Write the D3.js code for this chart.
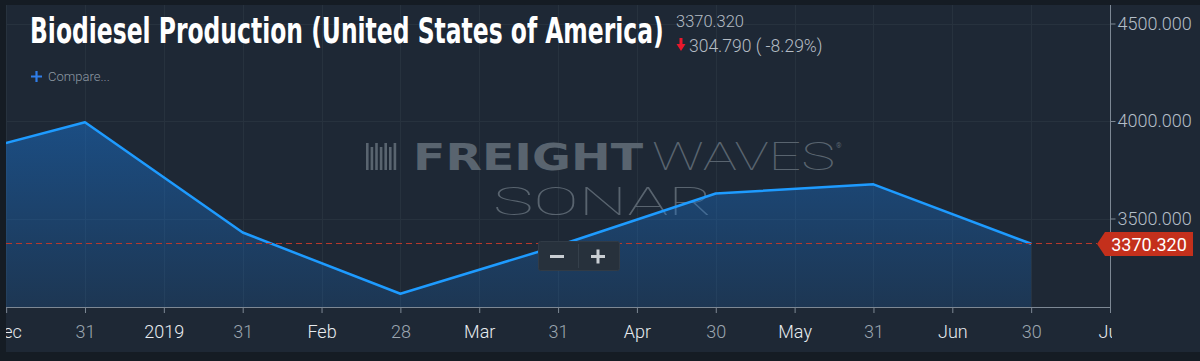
<!DOCTYPE html>
<html>
<head>
<meta charset="utf-8">
<script src="https://cdn.jsdelivr.net/npm/d3@7"></script>
<style>
  html, body { margin: 0; padding: 0; background: #151c24; }
  svg { display: block; }
</style>
</head>
<body>
<div id="chart"></div>
<script>
// monthly biodiesel production, ordinal positions (Dec 31 = 0)
var dates = ["2018-11-30", "2018-12-31", "2019-01-31", "2019-02-28", "2019-03-31", "2019-04-30", "2019-05-31", "2019-06-30"];
var positions = [-1, 0, 1, 2, 3, 4, 5, 6];
var values = [3781, 3994, 3428, 3114, 3360, 3628, 3675.11, 3370.32];

var tickPositions = [-0.5, 0, 0.5, 1, 1.5, 2, 2.5, 3, 3.5, 4, 4.5, 5, 5.5, 6, 6.5];
var tickLabels = ["Dec", "31", "2019", "31", "Feb", "28", "Mar", "31", "Apr", "30", "May", "31", "Jun", "30", "Jul"];
var majorTicks = ["Dec", "2019", "Feb", "Mar", "Apr", "May", "Jun", "Jul"];
var yTicks = [3500, 4000, 4500];

var lastValue = 3370.320;
var change = -304.790;
var changePct = -8.29;

var W = 1200, H = 361;
var pl = 6, pr = 1110, pt = 5, pb = 307;
var FONT = "Roboto, 'Noto Sans', sans-serif";

var svg = d3.select("#chart").append("svg")
  .attr("width", W).attr("height", H);

var defs = svg.append("defs");
defs.append("clipPath").attr("id", "plotclip")
  .append("rect").attr("x", pl).attr("y", pt)
  .attr("width", pr - pl).attr("height", pb - pt);
defs.append("clipPath").attr("id", "xlabclip")
  .append("rect").attr("x", pl).attr("y", -2)
  .attr("width", pr - pl + 2).attr("height", 50);

var grad = defs.append("linearGradient").attr("id", "fillgrad")
  .attr("gradientUnits", "userSpaceOnUse")
  .attr("x1", 0).attr("x2", 0).attr("y1", 120).attr("y2", pb);
grad.append("stop").attr("offset", 0).attr("stop-color", "#1878dc").attr("stop-opacity", 0.47);
grad.append("stop").attr("offset", 1).attr("stop-color", "#1878dc").attr("stop-opacity", 0.18);

// panel background
svg.append("rect").attr("x", pl).attr("y", pt)
  .attr("width", W - pl).attr("height", 352 - pt)
  .attr("fill", "#1e2835");

var x = d3.scaleLinear().domain([-0.5, 6.5]).range([6.15, 1110]);
var y = d3.scaleLinear().domain([3500, 4500]).range([218.5, 23.5]);

// grid
var grid = svg.append("g");
grid.selectAll(".vg").data(tickPositions).enter().append("line")
  .attr("x1", function(d){ return Math.round(x(d)) + 0.5; })
  .attr("x2", function(d){ return Math.round(x(d)) + 0.5; })
  .attr("y1", pt).attr("y2", pb)
  .attr("stroke", "#27323e").attr("stroke-width", 1);
grid.selectAll(".hg").data(yTicks).enter().append("line")
  .attr("x1", pl).attr("x2", pr)
  .attr("y1", function(d){ return Math.round(y(d)) + 0.5; })
  .attr("y2", function(d){ return Math.round(y(d)) + 0.5; })
  .attr("stroke", "#27323e").attr("stroke-width", 1);

// watermark
var wm = svg.append("g").attr("fill", "#59646f");
var bars = [0, 1, 2, 3, 4, 5, 6];
wm.selectAll("rect").data(bars).enter().append("rect")
  .attr("x", function(d){ return 366 + d * 4.6; })
  .attr("y", function(d){ return d % 2 ? 147 : 143; })
  .attr("width", 2.6)
  .attr("height", function(d){ return d % 2 ? 23 : 27; });
wm.append("text").attr("x", 413).attr("y", 170)
  .attr("font-family", "DejaVu Sans").attr("font-weight", 700).attr("font-size", 37)
  .attr("textLength", 230).attr("lengthAdjust", "spacingAndGlyphs")
  .text("FREIGHT");
wm.append("text").attr("x", 652).attr("y", 170)
  .attr("font-family", "Roboto").attr("font-weight", 100).attr("font-size", 38)
  .attr("textLength", 183).attr("lengthAdjust", "spacingAndGlyphs")
  .text("WAVES");
wm.append("text").attr("x", 493).attr("y", 215)
  .attr("font-family", "Roboto").attr("font-weight", 100).attr("font-size", 38)
  .attr("textLength", 220).attr("lengthAdjust", "spacingAndGlyphs")
  .text("SONAR");
wm.append("text").attr("x", 836).attr("y", 148)
  .attr("font-family", "Roboto").attr("font-size", 7).text("®");

// series
var pts = positions.map(function(p, i){ return [p, values[i]]; });
var plot = svg.append("g").attr("clip-path", "url(#plotclip)");
plot.append("path").datum(pts)
  .attr("fill", "url(#fillgrad)")
  .attr("d", d3.area()
    .x(function(d){ return x(d[0]); })
    .y0(pb)
    .y1(function(d){ return y(d[1]); }));
plot.append("path").datum(pts)
  .attr("fill", "none")
  .attr("stroke", "#1e9bff").attr("stroke-width", 2.5)
  .attr("stroke-linejoin", "round")
  .attr("d", d3.line()
    .x(function(d){ return x(d[0]); })
    .y(function(d){ return y(d[1]); }));

// last value line
var ly = Math.round(y(lastValue)) - 0.5;
svg.append("line")
  .attr("x1", pl).attr("x2", 1097)
  .attr("y1", ly).attr("y2", ly)
  .attr("stroke", "#b8392b").attr("stroke-width", 1)
  .attr("stroke-dasharray", "6,4");

// x axis
var xAxis = svg.append("g")
  .attr("transform", "translate(0," + pb + ")")
  .attr("clip-path", "url(#xlabclip)")
  .call(d3.axisBottom(x).tickValues(tickPositions)
    .tickFormat(function(d, i){ return tickLabels[i]; })
    .tickSize(6).tickPadding(12));
xAxis.attr("font-family", FONT).attr("font-size", 18);
xAxis.select(".domain").attr("stroke", "#7d8894")
  .attr("d", "M" + pl + ",0.5H" + (pr + 1));
xAxis.selectAll(".tick line").attr("stroke", "#7d8894");
xAxis.selectAll(".tick text")
  .attr("font-weight", 300)
  .attr("fill", function(d, i){ return majorTicks.indexOf(tickLabels[i]) >= 0 ? "#e8ecf0" : "#9ca6b0"; });

// y axis
var yAxis = svg.append("g")
  .attr("transform", "translate(" + (pr + 0.5) + ",0)")
  .call(d3.axisRight(y).tickValues(yTicks)
    .tickFormat(d3.format(".3f")).tickSize(5).tickPadding(2));
yAxis.attr("font-family", FONT).attr("font-size", 18);
yAxis.select(".domain").attr("stroke", "#7d8894")
  .attr("d", "M0," + pt + "V" + (pb + 1));
yAxis.selectAll(".tick line").attr("stroke", "#7d8894");
yAxis.selectAll(".tick text").attr("font-weight", 300).attr("fill", "#b4bec8");

// last value flag
var flag = svg.append("g");
flag.append("path")
  .attr("d", "M1097," + (ly + 0.5) + "L1105," + (ly - 11.5) + "H1193V" + (ly + 12.5) + "H1105Z")
  .attr("fill", "#c4301c");
flag.append("text").attr("x", 1149).attr("y", ly + 7)
  .attr("text-anchor", "middle")
  .attr("font-family", FONT).attr("font-weight", 400).attr("font-size", 18)
  .attr("fill", "#ffffff")
  .text(d3.format(".3f")(lastValue));

// zoom buttons
var zb = svg.append("g");
zb.append("rect").attr("x", 538.5).attr("y", 241.5).attr("width", 81).attr("height", 29)
  .attr("rx", 2).attr("fill", "#27313c").attr("stroke", "#313b46");
zb.append("line").attr("x1", 578.5).attr("x2", 578.5).attr("y1", 244).attr("y2", 268)
  .attr("stroke", "#35404b");
zb.append("rect").attr("x", 550).attr("y", 255).attr("width", 14).attr("height", 3).attr("fill", "#c9ced3");
zb.append("rect").attr("x", 591).attr("y", 255).attr("width", 14).attr("height", 3).attr("fill", "#c9ced3");
zb.append("rect").attr("x", 596.5).attr("y", 249.5).attr("width", 3).attr("height", 14).attr("fill", "#c9ced3");

// title - squeeze to the reference width with a horizontal scale
var title = svg.append("text").attr("x", 0).attr("y", 0)
  .attr("font-family", "'Liberation Sans Narrow', 'DejaVu Sans Condensed', 'Liberation Sans', sans-serif")
  .attr("font-stretch", "condensed")
  .attr("font-weight", 700)
  .attr("font-size", 35).attr("fill", "#ffffff")
  .text("Biodiesel Production (United States of America)");
var tw = title.node().getComputedTextLength();
title.attr("transform", "translate(30,43) scale(" + (634 / tw) + ",1)");

svg.append("text").attr("x", 676).attr("y", 27)
  .attr("font-family", FONT).attr("font-weight", 300).attr("font-size", 16.5)
  .attr("fill", "#b4bcc4")
  .text(d3.format(".3f")(lastValue));
svg.append("path")
  .attr("d", "M679.5,38h3v6h3l-4.5,7l-4.5,-7h3z")
  .attr("fill", "#e8182c");
svg.append("text").attr("x", 689).attr("y", 52)
  .attr("font-family", FONT).attr("font-weight", 300).attr("font-size", 17.5)
  .attr("fill", "#b4bcc4")
  .text(d3.format(".3f")(Math.abs(change)) + " ( " + changePct.toFixed(2) + "%)");

// compare
svg.append("path").attr("d", "M31,76.5h11M36.5,71v11")
  .attr("stroke", "#2f7de8").attr("stroke-width", 2.2);
svg.append("text").attr("x", 48).attr("y", 81)
  .attr("font-family", FONT).attr("font-weight", 300).attr("font-size", 13)
  .attr("fill", "#8e99a4")
  .text("Compare...");
</script>
</body>
</html>
